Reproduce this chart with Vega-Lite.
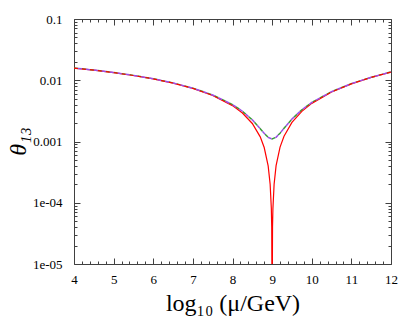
{
  "$schema": "https://vega.github.io/schema/vega-lite/v6.json",
  "width": 317,
  "height": 245,
  "autosize": {"type": "none"},
  "padding": {"left": 74, "top": 19, "right": 24, "bottom": 53},
  "background": "white",
  "config": {
    "font": "Liberation Serif",
    "view": {"stroke": null},
    "style": {"guide-label": {"font": "Liberation Serif"}, "guide-title": {"font": "Liberation Serif"}},
    "axis": {
      "domainColor": "#404040",
      "domainWidth": 1,
      "tickColor": "#404040",
      "tickWidth": 1,
      "labelFont": "Liberation Serif",
      "labelFontSize": 13,
      "labelColor": "#000000",
      "titleFont": "Liberation Serif",
      "titleFontWeight": "normal",
      "titleColor": "#000000",
      "grid": false,
      "labelOverlap": false,
      "labelBound": false,
      "labelFlush": false
    }
  },
  "datasets": {
    "red": [
      {"x": 4, "y": 0.0158},
      {"x": 4.5, "y": 0.0146},
      {"x": 5, "y": 0.01333},
      {"x": 5.5, "y": 0.01196},
      {"x": 6, "y": 0.01051},
      {"x": 6.5, "y": 0.00898},
      {"x": 7, "y": 0.00735},
      {"x": 7.5, "y": 0.00564},
      {"x": 8, "y": 0.00385},
      {"x": 8.25, "y": 0.00292},
      {"x": 8.5, "y": 0.00197},
      {"x": 8.7, "y": 0.00119},
      {"x": 8.8, "y": 0.000797},
      {"x": 8.9, "y": 0.0004},
      {"x": 8.95, "y": 0.000201},
      {"x": 8.98, "y": 0.0000804},
      {"x": 8.99, "y": 0.0000402},
      {"x": 9, "y": 0.000001},
      {"x": 9.01, "y": 0.0000402},
      {"x": 9.02, "y": 0.0000804},
      {"x": 9.05, "y": 0.000201},
      {"x": 9.1, "y": 0.000404},
      {"x": 9.2, "y": 0.000811},
      {"x": 9.3, "y": 0.00122},
      {"x": 9.5, "y": 0.00205},
      {"x": 9.75, "y": 0.00311},
      {"x": 10, "y": 0.00419},
      {"x": 10.5, "y": 0.00642},
      {"x": 11, "y": 0.00873},
      {"x": 11.5, "y": 0.01113},
      {"x": 12, "y": 0.01361}
    ],
    "dash": [
      {"x": 4, "y": 0.01584},
      {"x": 4.5, "y": 0.01465},
      {"x": 5, "y": 0.01338},
      {"x": 5.5, "y": 0.01201},
      {"x": 6, "y": 0.01057},
      {"x": 6.5, "y": 0.009047},
      {"x": 7, "y": 0.007432},
      {"x": 7.5, "y": 0.005746},
      {"x": 8, "y": 0.004004},
      {"x": 8.25, "y": 0.00312},
      {"x": 8.5, "y": 0.002256},
      {"x": 8.7, "y": 0.001621},
      {"x": 8.8, "y": 0.001358},
      {"x": 8.9, "y": 0.00117},
      {"x": 9, "y": 0.0011},
      {"x": 9.1, "y": 0.001172},
      {"x": 9.2, "y": 0.001367},
      {"x": 9.3, "y": 0.001643},
      {"x": 9.5, "y": 0.002326},
      {"x": 9.75, "y": 0.003299},
      {"x": 10, "y": 0.004332},
      {"x": 10.5, "y": 0.006514},
      {"x": 11, "y": 0.008799},
      {"x": 11.5, "y": 0.011184},
      {"x": 12, "y": 0.013654}
    ]
  },
  "resolve": {"axis": {"x": "independent", "y": "independent"}},
  "layer": [
    {
      "data": {"name": "dash"},
      "mark": {"type": "line", "color": "#3c9a3c", "strokeWidth": 1.5, "strokeDash": [4, 4], "clip": true},
      "encoding": {
        "x": {
          "field": "x", "type": "quantitative",
          "scale": {"domain": [4, 12], "nice": false, "zero": false},
          "axis": {
            "orient": "bottom",
            "title": "log₁₀ (μ/GeV)",
            "titleFont": "Liberation Serif",
            "titleFontSize": 24,
            "titlePadding": 2,
            "labelFont": "Liberation Serif",
            "labelFontSize": 13,
            "values": [4,4.2,4.4,4.6,4.8,5,5.2,5.4,5.6,5.8,6,6.2,6.4,6.6,6.8,7,7.2,7.4,7.6,7.8,8,8.2,8.4,8.6,8.8,9,9.2,9.4,9.6,9.8,10,10.2,10.4,10.6,10.8,11,11.2,11.4,11.6,11.8,12],
            "labelExpr": "abs(datum.value - round(datum.value)) < 0.001 ? format(datum.value, 'd') : ''",
            "tickSize": {"condition": {"test": "abs(datum.value - round(datum.value)) < 0.001", "value": -6}, "value": -3},
            "labelPadding": 15
          }
        },
        "y": {
          "field": "y", "type": "quantitative",
          "scale": {"type": "log", "domain": [0.00001, 0.1], "nice": false},
          "axis": {
            "orient": "left",
            "title": "θ₁₃",
            "titleFont": "Liberation Serif",
            "titleFontSize": 24,
            "titleFontStyle": "italic",
            "titleX": -56,
            "titleY": 122,
            "titleAngle": -90,
            "titleAlign": "center",
            "titleBaseline": "middle",
            "labelFont": "Liberation Serif",
            "labelFontSize": 13,
            "values": [0.00001,0.00002,0.00003,0.00004,0.00005,0.00006,0.00007,0.00008,0.00009,0.0001,0.0002,0.0003,0.0004,0.0005,0.0006,0.0007,0.0008,0.0009,0.001,0.002,0.003,0.004,0.005,0.006,0.007,0.008,0.009,0.01,0.02,0.03,0.04,0.05,0.06,0.07,0.08,0.09,0.1],
            "labelExpr": "abs(log(datum.value)/LN10 - round(log(datum.value)/LN10)) < 0.000001 ? (datum.value < 0.00005 ? '1e-05' : datum.value < 0.0005 ? '1e-04' : format(datum.value, '')) : ''",
            "tickSize": {"condition": {"test": "abs(log(datum.value)/LN10 - round(log(datum.value)/LN10)) < 0.000001", "value": -6}, "value": -3},
            "labelPadding": 18
          }
        }
      }
    },
    {
      "data": {"name": "red"},
      "mark": {"type": "line", "color": "#ff0000", "strokeWidth": 1.2, "clip": true},
      "encoding": {
        "x": {
          "field": "x", "type": "quantitative",
          "axis": {
            "orient": "top",
            "title": null,
            "labels": false,
            "values": [4,4.2,4.4,4.6,4.8,5,5.2,5.4,5.6,5.8,6,6.2,6.4,6.6,6.8,7,7.2,7.4,7.6,7.8,8,8.2,8.4,8.6,8.8,9,9.2,9.4,9.6,9.8,10,10.2,10.4,10.6,10.8,11,11.2,11.4,11.6,11.8,12],
            "tickSize": {"condition": {"test": "abs(datum.value - round(datum.value)) < 0.001", "value": -6}, "value": -3}
          }
        },
        "y": {
          "field": "y", "type": "quantitative",
          "axis": {
            "orient": "right",
            "title": null,
            "labels": false,
            "values": [0.00001,0.00002,0.00003,0.00004,0.00005,0.00006,0.00007,0.00008,0.00009,0.0001,0.0002,0.0003,0.0004,0.0005,0.0006,0.0007,0.0008,0.0009,0.001,0.002,0.003,0.004,0.005,0.006,0.007,0.008,0.009,0.01,0.02,0.03,0.04,0.05,0.06,0.07,0.08,0.09,0.1],
            "tickSize": {"condition": {"test": "abs(log(datum.value)/LN10 - round(log(datum.value)/LN10)) < 0.000001", "value": -6}, "value": -3}
          }
        }
      }
    },
    {
      "data": {"name": "dash"},
      "mark": {"type": "line", "color": "#9a50e6", "strokeWidth": 1.5, "strokeDash": [4, 4], "strokeDashOffset": 4, "clip": true},
      "encoding": {
        "x": {"field": "x", "type": "quantitative", "axis": null},
        "y": {"field": "y", "type": "quantitative", "axis": null}
      }
    }
  ]
}
